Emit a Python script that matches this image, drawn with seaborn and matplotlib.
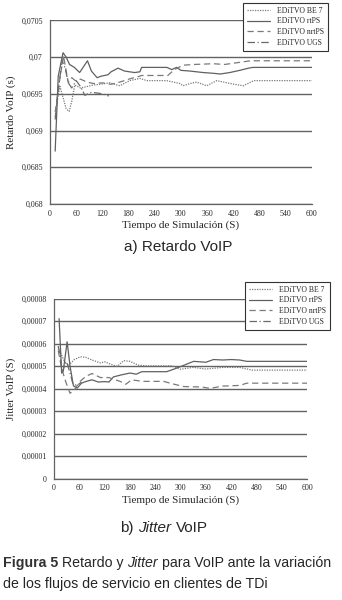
import numpy as np
import pandas as pd
import matplotlib
matplotlib.use('Agg')
import matplotlib.pyplot as plt
from matplotlib import font_manager
from matplotlib.ticker import MultipleLocator
import seaborn as sns

# ---- a) Retardo VoIP (s)
t_be_r = [12, 18, 23, 30, 37, 44, 50, 57, 70, 85, 99, 115, 137, 160, 183, 206, 222, 267, 298, 305, 321, 336, 359, 382, 413, 443, 467, 600]
be_r = [0.06919, 0.06945, 0.06960, 0.06945, 0.06930, 0.06926, 0.06940, 0.06962, 0.06958, 0.06960, 0.06962, 0.06963, 0.06965, 0.06961,
        0.06968, 0.06971, 0.06968, 0.06968, 0.06964, 0.06961, 0.06964, 0.06966, 0.06961, 0.06968, 0.06964, 0.06961, 0.06968, 0.06968]
t_rt_r = [12, 19, 30, 37, 45, 56, 68, 86, 95, 108, 117, 133, 140, 156, 171, 194, 206, 210, 268, 279, 290, 300, 321, 336, 351, 374, 390, 412, 435, 455, 465, 600]
rt_r = [0.06872, 0.06974, 0.07006, 0.07000, 0.06990, 0.06986, 0.06979, 0.06995, 0.06981, 0.06972, 0.06974, 0.06976, 0.06980, 0.06985, 0.06981, 0.06979,
        0.06980, 0.06986, 0.06986, 0.06983, 0.06986, 0.06982, 0.06981, 0.06980, 0.06979, 0.06978, 0.06977, 0.06979, 0.06982, 0.06985, 0.06986, 0.06986]
t_nrt_r = [12, 20, 31, 36, 42, 50, 58, 70, 85, 100, 120, 140, 160, 186, 200, 210, 250, 270, 285, 305, 330, 374, 400, 436, 459, 600]
nrt_r = [0.06925, 0.06960, 0.07002, 0.06985, 0.06965, 0.06972, 0.06968, 0.06970, 0.06966, 0.06964, 0.06965, 0.06963, 0.06966,
         0.06971, 0.06973, 0.06975, 0.06975, 0.06975, 0.06983, 0.06989, 0.06990, 0.06991, 0.06990, 0.06993, 0.06995, 0.06995]
t_ugs_r = [12, 20, 28, 35, 42, 50, 60, 70, 80, 87, 95, 110, 120, 135]
ugs_r = [0.06915, 0.06960, 0.06995, 0.06985, 0.06965, 0.06958, 0.06968, 0.06960, 0.06948, 0.06950, 0.06952, 0.06951, 0.06950, 0.06947]

# ---- b) Jitter VoIP (S)
t_be_j = [10, 18, 25, 35, 48, 62, 75, 90, 110, 120, 140, 150, 165, 180, 200, 220, 280, 300, 330, 360, 400, 440, 470, 600]
be_j = [5.8e-5, 5.5e-5, 5.2e-5, 5.05e-5, 5.3e-5, 5.42e-5, 5.40e-5, 5.28e-5, 5.15e-5, 5.20e-5, 5.05e-5, 5.0e-5, 5.25e-5, 5.22e-5,
        5.05e-5, 5.02e-5, 5.02e-5, 4.87e-5, 4.95e-5, 4.88e-5, 4.95e-5, 4.95e-5, 4.83e-5, 4.83e-5]
t_rt_j = [12, 18, 22, 31, 38, 46, 55, 65, 75, 90, 105, 120, 130, 141, 160, 180, 195, 208, 267, 285, 299, 315, 331, 360, 378, 400, 420, 440, 457, 600]
rt_j = [7.12e-5, 4.70e-5, 4.80e-5, 6.09e-5, 5.00e-5, 4.13e-5, 4.03e-5, 4.25e-5, 4.32e-5, 4.40e-5, 4.30e-5, 4.32e-5, 4.30e-5, 4.53e-5, 4.62e-5,
        4.70e-5, 4.65e-5, 4.76e-5, 4.76e-5, 4.88e-5, 4.98e-5, 5.10e-5, 5.22e-5, 5.18e-5, 5.30e-5, 5.28e-5, 5.30e-5, 5.28e-5, 5.22e-5, 5.22e-5]
t_nrt_j = [10, 18, 28, 38, 50, 60, 75, 90, 110, 130, 158, 170, 184, 210, 260, 275, 307, 350, 370, 400, 440, 457, 600]
nrt_j = [5.7e-5, 4.9e-5, 4.3e-5, 3.8e-5, 4.0e-5, 4.3e-5, 4.55e-5, 4.68e-5, 4.5e-5, 4.5e-5, 4.32e-5, 4.2e-5, 4.4e-5, 4.33e-5, 4.33e-5,
         4.25e-5, 4.1e-5, 4.08e-5, 4.02e-5, 4.12e-5, 4.15e-5, 4.25e-5, 4.25e-5]
t_ugs_j = [10, 15, 20, 25, 30, 38, 45, 55, 65]
ugs_j = [5.9e-5, 5.4e-5, 4.7e-5, 5.1e-5, 5.2e-5, 4.7e-5, 4.2e-5, 4.15e-5, 4.3e-5]

series_names = ['EDiTVO BE 7', 'EDiTVO rtPS', 'EDiTVO nrtPS', 'EDiTVO UGS']
x_ticks = list(range(0, 601, 60))
yt_r = [0.068, 0.0685, 0.069, 0.0695, 0.07, 0.0705]
yl_r = ['0,068', '0,0685', '0,069', '0,0695', '0,07', '0,0705']
yt_j = [0, 1e-5, 2e-5, 3e-5, 4e-5, 5e-5, 6e-5, 7e-5, 8e-5]
yl_j = ['0', '0,00001', '0,00002', '0,00003', '0,00004', '0,00005', '0,00006', '0,00007', '0,00008']

sns.set_style('white')
plt.rcParams['font.family'] = ['Liberation Serif', 'DejaVu Serif']

styles = [dict(linestyle=(0, (1, 1)), color='#7a7a7a'),
          dict(linestyle='-', color='#606060'),
          dict(linestyle=(0, (5, 3)), color='#7a7a7a'),
          dict(linestyle=(0, (6, 2, 1, 2)), color='#6a6a6a')]

fig = plt.figure(figsize=(3.42, 6.0), dpi=100)
ax1 = fig.add_axes([0.146, 0.66, 0.766, 0.306])
ax2 = fig.add_axes([0.158, 0.202, 0.74, 0.30])


def draw_panel(ax, data, yticks, ylabels, ylabel, legend_box):
    for (t, v), name, st in zip(data, series_names, styles):
        df = pd.DataFrame({'t': t, 'v': v})
        sns.lineplot(data=df, x='t', y='v', ax=ax, label=name, linewidth=0.9, **st)
    ax.set_xlim(0, 600)
    ax.set_ylim(yticks[0], yticks[-1])
    ax.set_xticks(x_ticks)
    ax.set_xticklabels([str(v) for v in x_ticks])
    ax.xaxis.set_minor_locator(MultipleLocator(6))
    ax.set_yticks(yticks)
    ax.set_yticklabels(ylabels)
    ax.grid(axis='y', color='#626262', linewidth=1.0)
    ax.set_axisbelow(True)
    for s in ['top', 'right']:
        ax.spines[s].set_visible(False)
    for s in ['left', 'bottom']:
        ax.spines[s].set_color('#626262')
        ax.spines[s].set_linewidth(0.9)
    ax.tick_params(axis='y', which='major', direction='out', length=3, width=0.8, color='#626262',
                   labelsize=5.7, pad=2)
    ax.tick_params(axis='x', which='major', direction='inout', length=4, width=0.7, color='#626262',
                   labelsize=5.7, pad=2)
    ax.tick_params(axis='x', which='minor', direction='inout', length=3, width=0.5, color='#626262')
    ax.set_xlabel('Tiempo de Simulación (S)', fontsize=8, labelpad=2)
    ax.set_ylabel(ylabel, fontsize=8, labelpad=4)
    leg = ax.legend(loc='upper right', bbox_to_anchor=legend_box, bbox_transform=fig.transFigure,
                    fontsize=5.5, frameon=True, fancybox=False, framealpha=1, handlelength=3.0,
                    labelspacing=0.35, borderpad=0.5, handletextpad=1.0, borderaxespad=0)
    leg.get_frame().set_edgecolor('#333333')
    leg.get_frame().set_linewidth(0.8)


draw_panel(ax1, [(t_be_r, be_r), (t_rt_r, rt_r), (t_nrt_r, nrt_r), (t_ugs_r, ugs_r)],
           yt_r, yl_r, 'Retardo VoIP (s)', (0.959, 0.995))
draw_panel(ax2, [(t_be_j, be_j), (t_rt_j, rt_j), (t_nrt_j, nrt_j), (t_ugs_j, ugs_j)],
           yt_j, yl_j, 'Jitter VoIP (S)', (0.965, 0.53))

# captions
names = {f.name for f in font_manager.fontManager.ttflist}
cap_family = 'Liberation Sans Narrow' if 'Liberation Sans Narrow' in names else 'Liberation Sans'
renderer = fig.canvas.get_renderer()


def width_of(s, size, **kw):
    t = fig.text(0, 0, s, fontsize=size, family=cap_family, **kw)
    w = t.get_window_extent(renderer=renderer).width
    t.remove()
    return w


def runs_width(runs, size):
    sp = width_of('a a', size) - width_of('aa', size)
    return sum(width_of(s, size, **k) for s, k in runs) + sp * (len(runs) - 1)


def run_line(x_px, y_px, runs, size):
    sp = width_of('a a', size) - width_of('aa', size)
    for text, kw in runs:
        t = fig.text(x_px / 342, 1 - y_px / 600, text, fontsize=size, family=cap_family, va='center', **kw)
        x_px += t.get_window_extent(renderer=renderer).width + sp


line1 = [('Figura 5', {'weight': 'bold', 'color': '#333333'}), ('Retardo y', {}),
         ('Jitter', {'style': 'italic'}), ('para VoIP ante la variación', {})]
line2 = [('de los flujos de servicio en clientes de TDi', {})]
sub_a = [('a) Retardo VoIP', {})]
sub_b = [('b)', {}), ('Jitter', {'style': 'italic'}), ('VoIP', {})]

cap_size = 10 * 329 / runs_width(line1, 10)
sub_size = 11

run_line(178 - runs_width(sub_a, sub_size) / 2, 247, sub_a, sub_size)
run_line(164 - runs_width(sub_b, sub_size) / 2, 528, sub_b, sub_size)
run_line(3, 563, line1, cap_size)
run_line(3, 584, line2, cap_size)

plt.savefig('out.png', dpi=100)
